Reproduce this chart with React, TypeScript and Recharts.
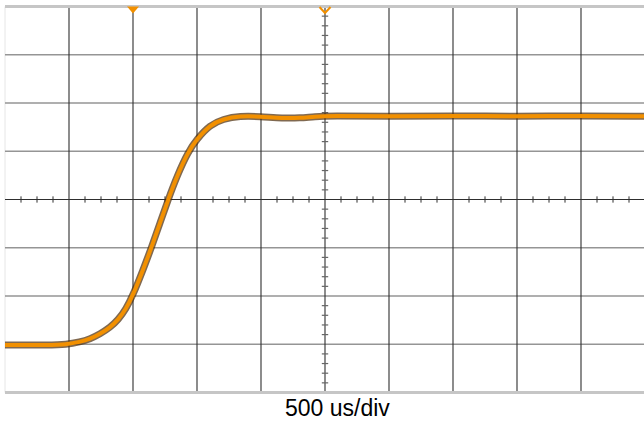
import { LineChart, Line, XAxis, YAxis, ReferenceLine, ReferenceDot } from "recharts";

// time in divisions (500 us/div), level in vertical divisions from centre
const time = [
  0, 0.703, 0.953, 1.172, 1.328, 1.484, 1.641, 1.766, 1.891, 2.0, 2.156, 2.297, 2.422, 2.547,
  2.688, 2.859, 3.0, 3.203, 3.406, 3.672, 3.984, 4.344, 4.609, 4.844, 5.078, 6, 7, 8, 9, 10,
];
const level = [
  -3.016, -3.016, -3.005, -2.953, -2.891, -2.788, -2.653, -2.497, -2.269, -1.979, -1.461, -0.964,
  -0.487, -0.01, 0.487, 0.984, 1.254, 1.544, 1.668, 1.731, 1.72, 1.683, 1.689, 1.72, 1.731, 1.725,
  1.731, 1.725, 1.731, 1.725,
];

const xDivs = [1, 2, 3, 4, 6, 7, 8, 9];
const yDivs = [-3, -2, -1, 1, 2, 3];
const triggerMarkers = [2, 5];
const timeLabel = "500 us/div";

const data = time.map((t, i) => ({ t, v: level[i] }));

// minor ticks on the centre cross: 4 per division across, 5 per division down
const xMinor: number[] = [];
for (let i = 1; i < 40; i++) if (i % 4 !== 0) xMinor.push(i / 4);
const yMinor: number[] = [];
for (let i = -19; i < 20; i++) if (i % 5 !== 0) yMinor.push(i / 5);

const ORANGE = "#f29000";

function FilledMarker(props: any) {
  const { cx, cy } = props;
  return (
    <polygon
      points={`${cx - 6},${cy} ${cx + 6},${cy} ${cx},${cy + 7}`}
      fill={ORANGE}
    />
  );
}

function HollowMarker(props: any) {
  const { cx, cy } = props;
  return (
    <polyline
      points={`${cx - 5.5},${cy + 0.5} ${cx},${cy + 6.5} ${cx + 5.5},${cy + 0.5}`}
      fill="none"
      stroke={ORANGE}
      strokeWidth={2}
    />
  );
}

export default function App() {
  return (
    <div
      style={{
        position: "absolute",
        left: 0,
        top: 0,
        width: 644,
        height: 423,
        overflow: "hidden",
        background: "#fff",
      }}
    >
      <LineChart
        width={650}
        height={423}
        data={data}
        margin={{ top: 6.5, right: 5, bottom: 30.5, left: 5 }}
      >
        <XAxis type="number" dataKey="t" domain={[0, 10]} hide />
        <YAxis type="number" domain={[-4, 4]} hide />

        <ReferenceLine x={0} stroke="#e6e6e6" strokeWidth={1} />
        {yDivs.map((y) => (
          <ReferenceLine key={"h" + y} y={y} stroke="#959595" strokeWidth={1.6} />
        ))}
        {xDivs.map((x) => (
          <ReferenceLine key={"v" + x} x={x} stroke="#2e2e2e" strokeWidth={1.1} />
        ))}
        <ReferenceLine y={0} stroke="#2e2e2e" strokeWidth={1.1} />
        <ReferenceLine x={5} stroke="#2e2e2e" strokeWidth={1.1} />
        {xMinor.map((x) => (
          <ReferenceLine
            key={"xm" + x}
            segment={[
              { x, y: -0.065 },
              { x, y: 0.065 },
            ]}
            stroke="#2e2e2e"
            strokeWidth={1}
          />
        ))}
        {yMinor.map((y) => (
          <ReferenceLine
            key={"ym" + y}
            segment={[
              { x: 4.95, y },
              { x: 5.05, y },
            ]}
            stroke="#666"
            strokeWidth={1.2}
          />
        ))}
        <ReferenceLine y={4} stroke="#c6c6c6" strokeWidth={3} />
        <ReferenceLine y={-4} stroke="#c6c6c6" strokeWidth={3} />

        <Line
          type="basis"
          dataKey="v"
          stroke="#4a2a05"
          strokeOpacity={0.7}
          strokeWidth={7}
          dot={false}
          isAnimationActive={false}
        />
        <Line
          type="basis"
          dataKey="v"
          stroke={ORANGE}
          strokeWidth={4}
          dot={false}
          isAnimationActive={false}
        />

        <ReferenceDot x={triggerMarkers[0]} y={4} shape={FilledMarker} ifOverflow="visible" />
        <ReferenceDot x={triggerMarkers[1]} y={4} shape={HollowMarker} ifOverflow="visible" />
      </LineChart>
      <div
        style={{
          position: "absolute",
          left: 285,
          top: 397,
          fontFamily: "Arial, 'Liberation Sans', sans-serif",
          fontSize: 23,
          lineHeight: "23px",
          color: "#000",
          whiteSpace: "nowrap",
        }}
      >
        {timeLabel}
      </div>
    </div>
  );
}
